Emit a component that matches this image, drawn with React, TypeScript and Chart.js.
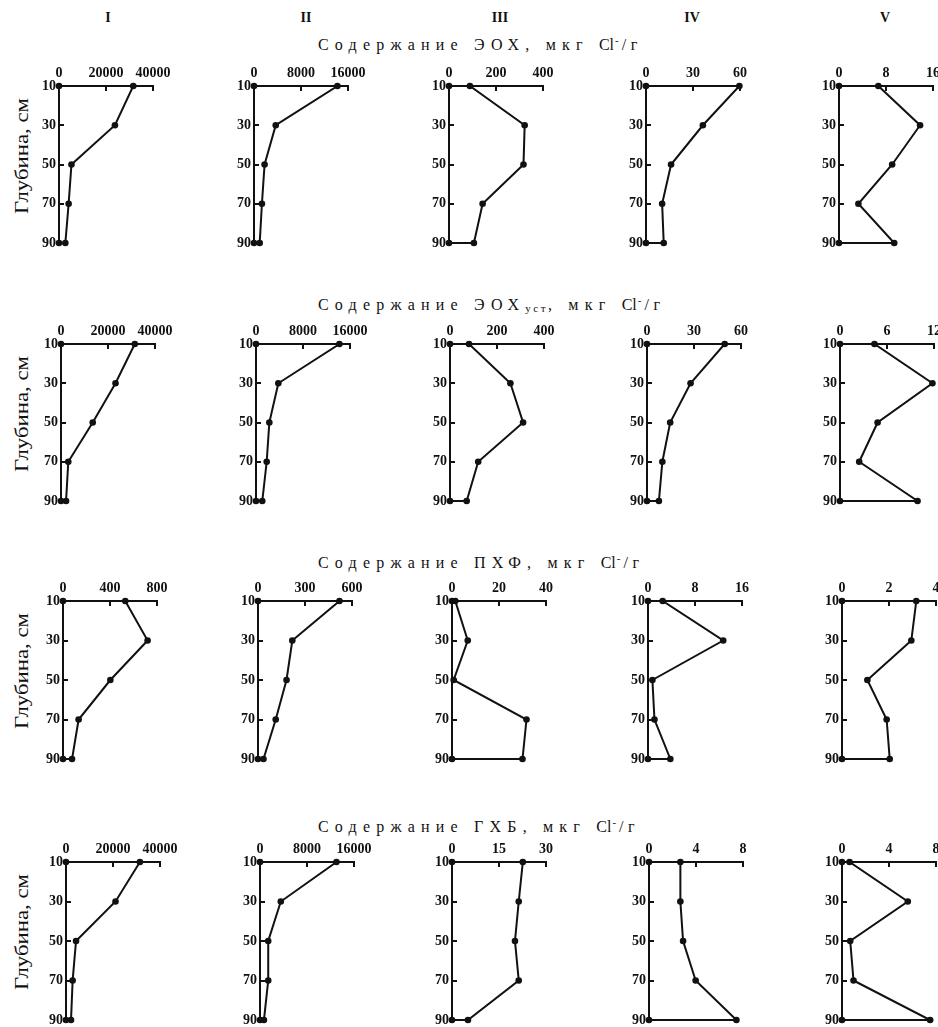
import React, { useEffect, useRef } from 'react';
import { Chart, registerables } from 'chart.js';

Chart.register(...registerables);

// ---------- data ----------
const depths = [10, 30, 50, 70, 90];
const depthTicks = [10, 30, 50, 70, 90];
const columnLabels = ['I', 'II', 'III', 'IV', 'V'];
const depthAxisTitle = 'Глубина, см';

// Row 1: Содержание ЭОХ
const eoxI = [31600, 23800, 5300, 4100, 2700];
const eoxII = [14200, 3700, 1800, 1350, 970];
const eoxIII = [89, 322, 317, 143, 106];
const eoxIV = [59.6, 36.3, 16, 10.3, 11.3];
const eoxV = [6.7, 13.8, 9.05, 3.3, 9.4];
const eoxMax = [40000, 16000, 400, 60, 16];
const eoxStep = [20000, 8000, 200, 30, 8];

// Row 2: Содержание ЭОХуст
const eoxUstI = [31400, 23200, 13500, 3100, 2150];
const eoxUstII = [14200, 3800, 2270, 1820, 1070];
const eoxUstIII = [81, 257, 311, 120, 71];
const eoxUstIV = [49.6, 27.8, 14.8, 9.8, 7.6];
const eoxUstV = [4.4, 11.8, 4.8, 2.45, 9.9];
const eoxUstMax = [40000, 16000, 400, 60, 12];
const eoxUstStep = [20000, 8000, 200, 30, 6];

// Row 3: Содержание ПХФ
const pcpI = [530, 720, 403, 133, 77];
const pcpII = [520, 219, 182, 113, 35];
const pcpIII = [1.4, 6.7, 0.7, 31.7, 30];
const pcpIV = [2.5, 12.8, 0.75, 1.1, 3.8];
const pcpV = [3.16, 2.95, 1.08, 1.9, 2.03];
const pcpMax = [800, 600, 40, 16, 4];
const pcpStep = [400, 300, 20, 8, 2];

// Row 4: Содержание ГХБ
const hcbI = [31450, 21070, 4270, 2820, 2140];
const hcbII = [13020, 3540, 1400, 1400, 670];
const hcbIII = [22.6, 21.3, 20.1, 21.3, 5.1];
const hcbIV = [2.67, 2.67, 2.9, 3.97, 7.44];
const hcbV = [0.64, 5.6, 0.7, 0.98, 7.5];
const hcbMax = [40000, 16000, 30, 8, 8];
const hcbStep = [20000, 8000, 15, 4, 4];

const rowSeries = [
  [eoxI, eoxII, eoxIII, eoxIV, eoxV],
  [eoxUstI, eoxUstII, eoxUstIII, eoxUstIV, eoxUstV],
  [pcpI, pcpII, pcpIII, pcpIV, pcpV],
  [hcbI, hcbII, hcbIII, hcbIV, hcbV],
];
const rowMax = [eoxMax, eoxUstMax, pcpMax, hcbMax];
const rowStep = [eoxStep, eoxUstStep, pcpStep, hcbStep];

// ---------- layout (pixels) ----------
const INK = '#111';
const SERIF = '"Liberation Serif", "DejaVu Serif", serif';
const panelX0 = [
  [59, 254, 449, 646, 839],
  [61, 256, 450, 647, 840],
  [63, 258, 452, 648, 842],
  [66, 260, 452, 649, 842],
];
const panelTop = [86, 344, 601, 862];
const panelBottom = [243, 501, 759, 1020];
const plotWidth = 94;
const axisW = 40;
const axisH = 22;
const padT = 2;
const padB = 8;
const padR = 24;
const titleTops = [45, 305, 563, 827];
const headerX = [108, 306, 500, 692, 885];

const innerTicks = {
  id: 'innerTicks',
  afterDraw(chart: any) {
    const ctx = chart.ctx;
    const xs = chart.scales.x;
    const ys = chart.scales.y;
    const { left, top } = chart.chartArea;
    ctx.save();
    ctx.strokeStyle = INK;
    ctx.lineWidth = 2;
    xs.ticks.forEach((t: any) => {
      if (t.value === xs.min) return;
      const px = Math.round(xs.getPixelForValue(t.value));
      ctx.beginPath();
      ctx.moveTo(px, top);
      ctx.lineTo(px, top + 5);
      ctx.stroke();
    });
    ys.ticks.forEach((t: any) => {
      if (t.value === ys.min || t.value === ys.max) return;
      const py = Math.round(ys.getPixelForValue(t.value));
      ctx.beginPath();
      ctx.moveTo(left, py);
      ctx.lineTo(left + 5, py);
      ctx.stroke();
    });
    ctx.restore();
  },
};

function Panel({ values, max, step, row, col }: any) {
  const ref = useRef<HTMLCanvasElement>(null);
  const x0 = panelX0[row][col];
  const top = panelTop[row];
  const bottom = panelBottom[row];
  const pr = col === 4 ? 14 : padR;
  const width = axisW + plotWidth + pr;
  const height = padT + axisH + (bottom - top) + padB;
  const left = x0 - axisW;
  const canvasTop = top - axisH - padT;

  useEffect(() => {
    if (!ref.current) return;
    const pts = [{ x: 0, y: depths[0] }]
      .concat(depths.map((d, i) => ({ x: values[i], y: d })))
      .concat([{ x: 0, y: depths[depths.length - 1] }]);
    const tickFont = { family: SERIF, size: 14, weight: 'bold' as const };
    const chart = new Chart(ref.current, {
      type: 'scatter',
      data: {
        datasets: [
          {
            data: pts,
            showLine: true,
            borderColor: INK,
            borderWidth: 2,
            backgroundColor: INK,
            pointBackgroundColor: INK,
            pointBorderColor: INK,
            pointBorderWidth: 0,
            pointRadius: 3.3,
            clip: false as any,
            tension: 0,
          },
        ],
      },
      options: {
        responsive: false,
        animation: false,
        devicePixelRatio: 1,
        events: [],
        layout: { padding: { left: 0, top: padT, right: pr, bottom: padB } },
        plugins: { legend: { display: false }, tooltip: { enabled: false } },
        scales: {
          x: {
            type: 'linear',
            position: 'top',
            min: 0,
            max,
            grid: { display: false, drawTicks: false },
            border: { display: true, color: INK, width: 2 },
            ticks: {
              stepSize: step,
              autoSkip: false,
              maxRotation: 0,
              minRotation: 0,
              padding: 4,
              color: INK,
              font: tickFont,
              callback: (v: any) => String(v),
            },
            afterFit: (s: any) => {
              s.height = axisH;
              s.paddingLeft = 0;
              s.paddingRight = 0;
            },
          },
          y: {
            type: 'linear',
            reverse: true,
            min: depthTicks[0],
            max: depthTicks[depthTicks.length - 1],
            grid: { display: false, drawTicks: false },
            border: { display: true, color: INK, width: 2 },
            afterBuildTicks: (s: any) => {
              s.ticks = depthTicks.map((v) => ({ value: v }));
            },
            ticks: {
              autoSkip: false,
              padding: 3,
              color: INK,
              font: tickFont,
              callback: (v: any) => String(v),
            },
            afterFit: (s: any) => {
              s.width = axisW;
              s.paddingTop = 0;
              s.paddingBottom = 0;
            },
          },
        },
      },
      plugins: [innerTicks],
    } as any);
    return () => chart.destroy();
  }, [values, max, step]);

  return (
    <canvas
      ref={ref}
      width={width}
      height={height}
      style={{ position: 'absolute', left, top: canvasTop, width, height }}
    />
  );
}

const titleStyle: React.CSSProperties = {
  position: 'absolute',
  left: 318,
  fontFamily: SERIF,
  fontSize: 16,
  letterSpacing: '6.2px',
  whiteSpace: 'nowrap',
  color: INK,
  lineHeight: '18px',
};

function ClUnit() {
  return (
    <span style={{ letterSpacing: '4.5px' }}>
      <span style={{ letterSpacing: 0 }}>C</span>
      <span style={{ letterSpacing: '1px' }}>l</span>
      <sup style={{ fontSize: 11, letterSpacing: '3px', verticalAlign: '6px', lineHeight: 0 }}>-</sup>
      <span>/г</span>
    </span>
  );
}

export default function App() {
  const titles = [
    <span>Содержание ЭОХ, мкг <ClUnit /></span>,
    <span>
      Содержание ЭОХ
      <sub style={{ fontSize: 11, letterSpacing: '2.5px', verticalAlign: '-2px', lineHeight: 0 }}>уст</sub>,
      мкг <ClUnit />
    </span>,
    <span>Содержание ПХФ, мкг <ClUnit /></span>,
    <span>Содержание ГХБ, мкг <ClUnit /></span>,
  ];
  return (
    <div
      style={{
        position: 'absolute',
        left: 0,
        top: 0,
        width: 938,
        height: 1027,
        overflow: 'hidden',
        background: '#fff',
      }}
    >
      {columnLabels.map((c, i) => (
        <div
          key={c}
          style={{
            position: 'absolute',
            left: headerX[i],
            top: 18,
            transform: 'translate(-50%, -50%)',
            fontFamily: SERIF,
            fontWeight: 'bold',
            fontSize: 14,
            color: INK,
          }}
        >
          {c}
        </div>
      ))}
      {titles.map((t, r) => (
        <div key={r} style={{ ...titleStyle, top: titleTops[r] - 9 }}>
          {t}
        </div>
      ))}
      {rowSeries.map((series, r) => (
        <div
          key={'yl' + r}
          style={{
            position: 'absolute',
            left: 22,
            top: panelTop[r] + 70,
            transform: 'translate(-50%, -50%) rotate(-90deg) scaleX(1.2)',
            fontFamily: SERIF,
            fontSize: 19,
            whiteSpace: 'nowrap',
            color: INK,
          }}
        >
          {depthAxisTitle}
        </div>
      ))}
      {rowSeries.map((series, r) =>
        series.map((vals, c) => (
          <Panel
            key={r + '-' + c}
            values={vals}
            max={rowMax[r][c]}
            step={rowStep[r][c]}
            row={r}
            col={c}
          />
        ))
      )}
    </div>
  );
}
